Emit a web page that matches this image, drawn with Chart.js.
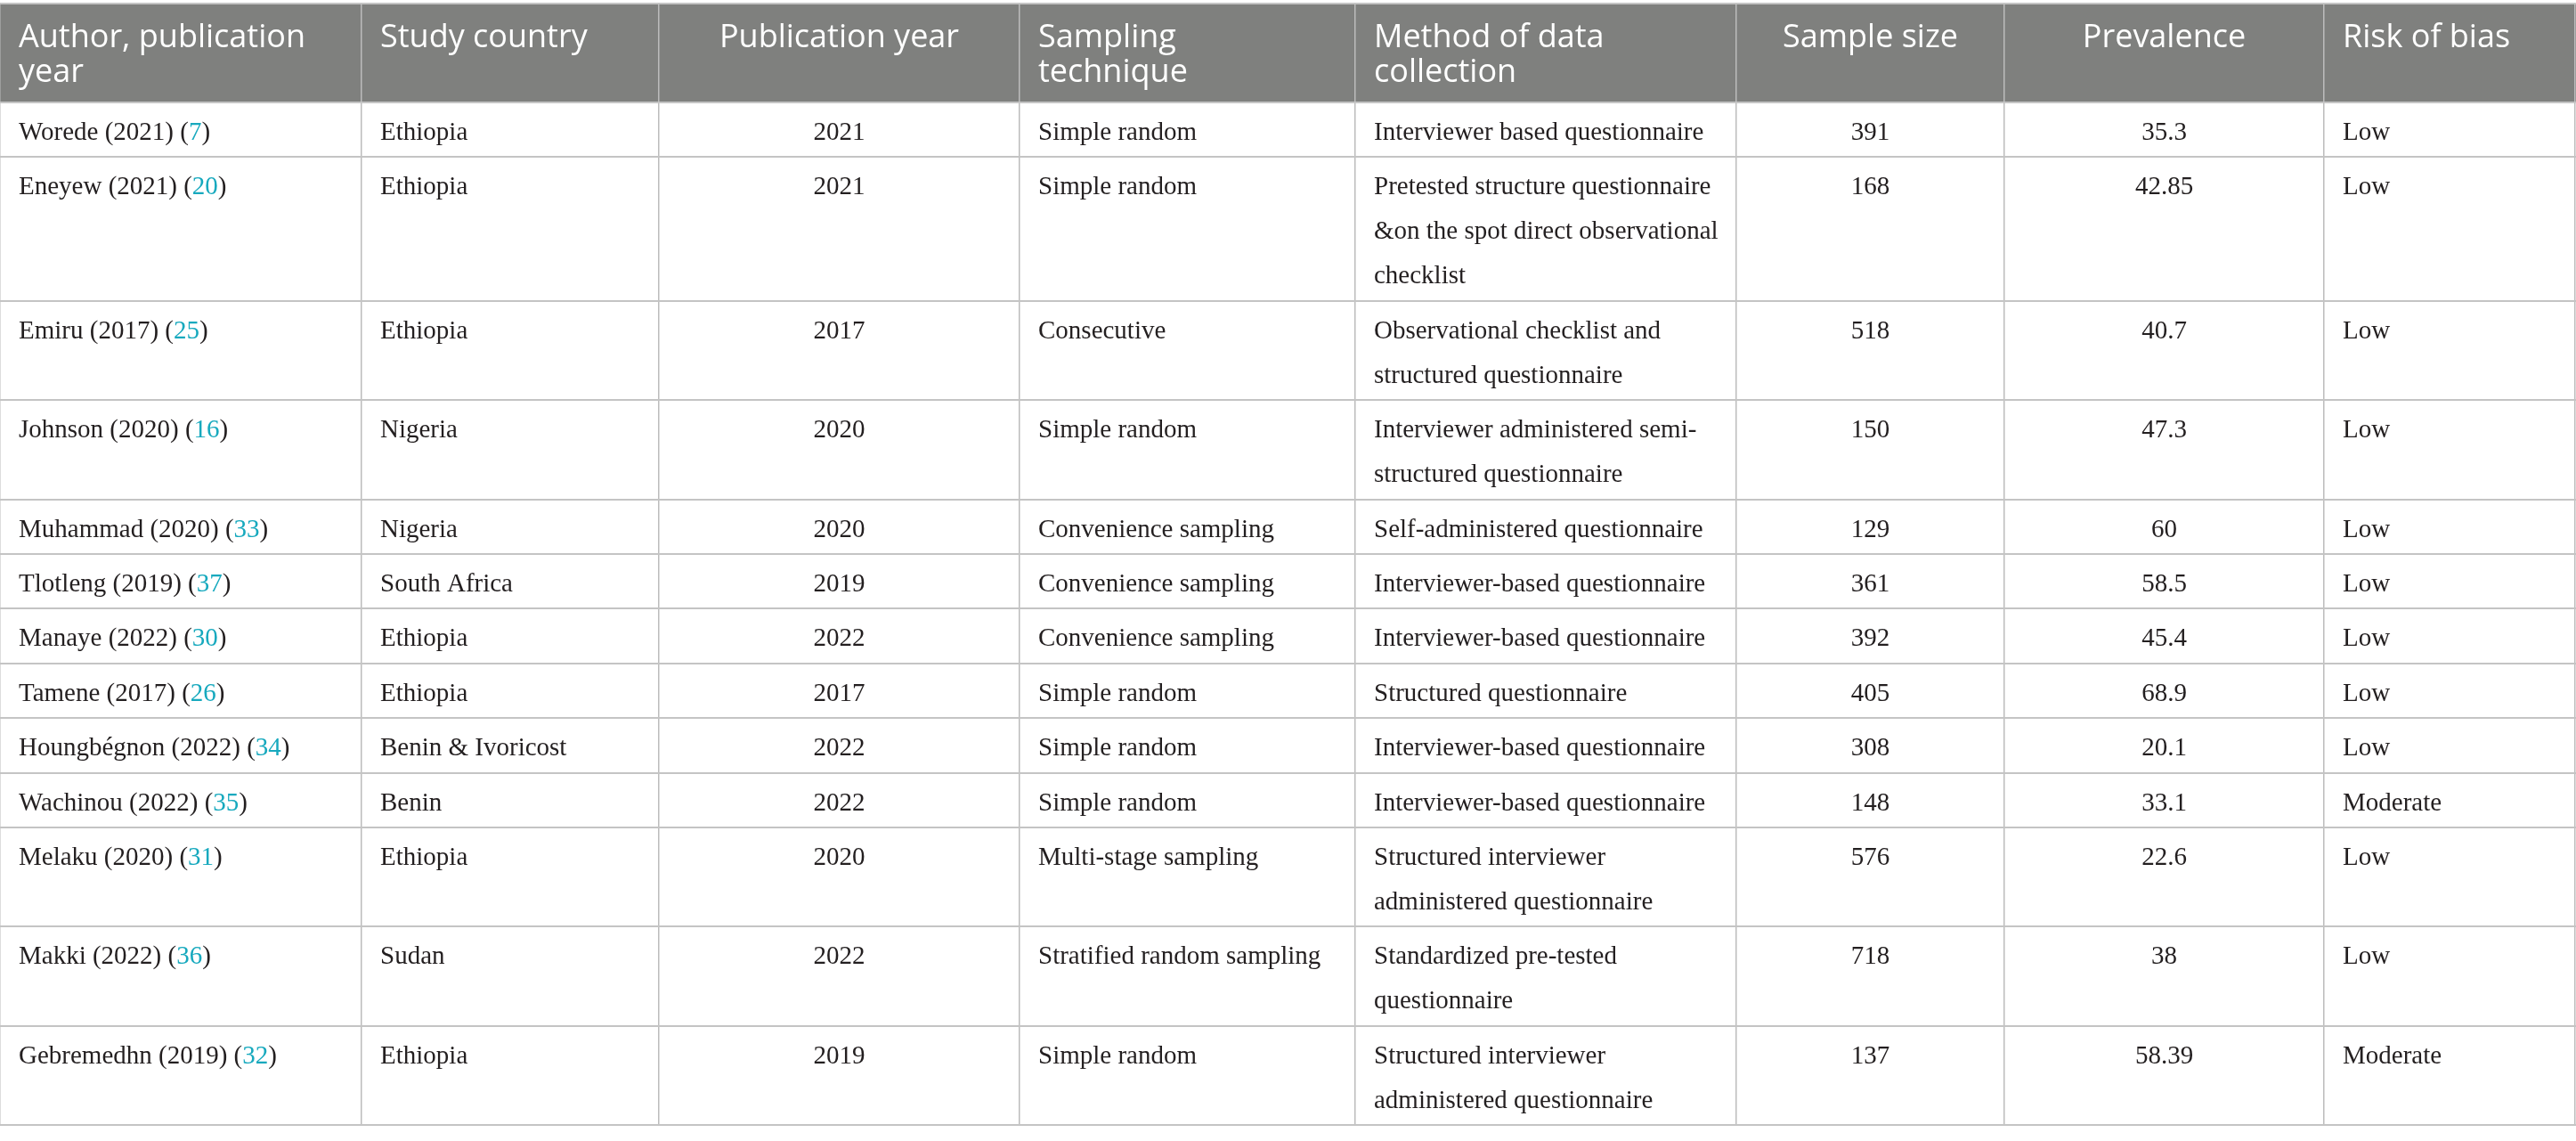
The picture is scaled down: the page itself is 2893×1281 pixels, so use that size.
<!DOCTYPE html>
<html>
<head>
<meta charset="utf-8">
<script src="https://cdn.jsdelivr.net/npm/chart.js@4.4.1/dist/chart.umd.min.js"></script>
<style>
  html, body { margin: 0; padding: 0; background: #fff; }
  #wrap { position: relative; width: 2893px; height: 1264px; }
</style>
</head>
<body>
<div id="wrap"><canvas id="studyTable"></canvas></div>
<script>
// table content
const headerLabels = [
    ['Author, publication', 'year'],
    ['Study country'],
    ['Publication year'],
    ['Sampling', 'technique'],
    ['Method of data', 'collection'],
    ['Sample size'],
    ['Prevalence'],
    ['Risk of bias']
];
const authors = ['Worede (2021)', 'Eneyew (2021)', 'Emiru (2017)', 'Johnson (2020)', 'Muhammad (2020)',
    'Tlotleng (2019)', 'Manaye (2022)', 'Tamene (2017)', 'Houngbégnon (2022)', 'Wachinou (2022)',
    'Melaku (2020)', 'Makki (2022)', 'Gebremedhn (2019)'];
const citations = [7, 20, 25, 16, 33, 37, 30, 26, 34, 35, 31, 36, 32];
const countries = ['Ethiopia', 'Ethiopia', 'Ethiopia', 'Nigeria', 'Nigeria', 'South Africa', 'Ethiopia',
    'Ethiopia', 'Benin & Ivoricost', 'Benin', 'Ethiopia', 'Sudan', 'Ethiopia'];
const pubYears = [2021, 2021, 2017, 2020, 2020, 2019, 2022, 2017, 2022, 2022, 2020, 2022, 2019];
const samplingTechniques = ['Simple random', 'Simple random', 'Consecutive', 'Simple random',
    'Convenience sampling', 'Convenience sampling', 'Convenience sampling', 'Simple random',
    'Simple random', 'Simple random', 'Multi-stage sampling', 'Stratified random sampling', 'Simple random'];
const methods = [
    ['Interviewer based questionnaire'],
    ['Pretested structure questionnaire', '&on the spot direct observational', 'checklist'],
    ['Observational checklist and', 'structured questionnaire'],
    ['Interviewer administered semi-', 'structured questionnaire'],
    ['Self-administered questionnaire'],
    ['Interviewer-based questionnaire'],
    ['Interviewer-based questionnaire'],
    ['Structured questionnaire'],
    ['Interviewer-based questionnaire'],
    ['Interviewer-based questionnaire'],
    ['Structured interviewer', 'administered questionnaire'],
    ['Standardized pre-tested', 'questionnaire'],
    ['Structured interviewer', 'administered questionnaire']
];
const sampleSizes = [391, 168, 518, 150, 129, 361, 392, 405, 308, 148, 576, 718, 137];
const prevalence = [35.3, 42.85, 40.7, 47.3, 60, 58.5, 45.4, 68.9, 20.1, 33.1, 22.6, 38, 58.39];
const riskOfBias = ['Low', 'Low', 'Low', 'Low', 'Low', 'Low', 'Low', 'Low', 'Low', 'Moderate', 'Low', 'Low', 'Moderate'];

// layout
const colEdges = [0, 406, 740, 1145, 1522, 1950, 2251, 2610, 2892];
const colAlign = ['left', 'left', 'center', 'left', 'left', 'center', 'center', 'left'];
const TABLE_TOP = 4;
const HEADER_BOTTOM = 115;
const ROW_BASE = 61.4;
const LINE_STEP = 50;
const CELL_PAD = 21;
const HEADER_FONT = '36px "Open Sans"';
const BODY_FONT = '29px "Liberation Serif"';
const TEXT_COLOR = '#231f20';
const CITE_COLOR = '#17a9be';
const HEADER_FILL = '#7f807e';

// row edges, from the number of lines in each row
const rowEdges = [TABLE_TOP, HEADER_BOTTOM];
methods.forEach(lines => {
    const prev = rowEdges[rowEdges.length - 1];
    rowEdges.push(prev + ROW_BASE + LINE_STEP * (lines.length - 1));
});

function cellLines(row, col) {
    switch (col) {
        case 1: return [countries[row]];
        case 2: return [String(pubYears[row])];
        case 3: return [samplingTechniques[row]];
        case 4: return methods[row];
        case 5: return [String(sampleSizes[row])];
        case 6: return [String(prevalence[row])];
        case 7: return [riskOfBias[row]];
    }
    return [];
}

function textX(ctx, xs, col, text) {
    const left = xs.getPixelForValue(colEdges[col]);
    const right = xs.getPixelForValue(colEdges[col + 1]);
    if (colAlign[col] === 'center') return (left + right) / 2 - ctx.measureText(text).width / 2;
    return left + CELL_PAD;
}

const tablePlugin = {
    id: 'tablePlugin',
    beforeDraw(chart) {
        const { ctx, scales: { x, y } } = chart;
        ctx.save();
        ctx.fillStyle = HEADER_FILL;
        const top = y.getPixelForValue(TABLE_TOP);
        const bottom = y.getPixelForValue(HEADER_BOTTOM);
        ctx.fillRect(x.getPixelForValue(0), top, x.getPixelForValue(colEdges[8] + 1), bottom - top);
        ctx.restore();
    },
    afterDraw(chart) {
        const { ctx, scales: { x, y } } = chart;
        ctx.save();
        ctx.textBaseline = 'alphabetic';

        // header
        ctx.font = HEADER_FONT;
        ctx.fillStyle = '#ffffff';
        headerLabels.forEach((lines, col) => {
            lines.forEach((line, k) => {
                ctx.fillText(line, textX(ctx, x, col, line), y.getPixelForValue(TABLE_TOP + 49 + 39 * k));
            });
        });

        // body
        ctx.font = BODY_FONT;
        for (let r = 0; r < authors.length; r++) {
            const top = rowEdges[r + 1];
            const base = y.getPixelForValue(top + 42);

            // author with coloured reference number
            let px = x.getPixelForValue(colEdges[0]) + CELL_PAD;
            const parts = [[authors[r] + ' (', TEXT_COLOR], [String(citations[r]), CITE_COLOR], [')', TEXT_COLOR]];
            parts.forEach(([txt, color]) => {
                ctx.fillStyle = color;
                ctx.fillText(txt, px, base);
                px += ctx.measureText(txt).width;
            });

            ctx.fillStyle = TEXT_COLOR;
            for (let col = 1; col < 8; col++) {
                cellLines(r, col).forEach((line, k) => {
                    ctx.fillText(line, textX(ctx, x, col, line), y.getPixelForValue(top + 42 + LINE_STEP * k));
                });
            }
        }
        ctx.restore();
    }
};

new Chart(document.getElementById('studyTable'), {
    type: 'scatter',
    data: { datasets: [{ data: [] }] },
    options: {
        responsive: true,
        maintainAspectRatio: false,
        animation: false,
        layout: { padding: { top: TABLE_TOP, left: 0, right: 0, bottom: 0 } },
        plugins: { legend: { display: false }, tooltip: { enabled: false } },
        scales: {
            x: {
                type: 'linear',
                min: 0,
                max: 2893,
                ticks: { display: false },
                border: { display: false },
                grid: { drawTicks: false, color: '#bcbcbc', lineWidth: 1.5 },
                afterBuildTicks: s => { s.ticks = colEdges.map(v => ({ value: v })); },
                afterFit: s => { s.height = 0; }
            },
            y: {
                type: 'linear',
                reverse: true,
                min: TABLE_TOP,
                max: 1264,
                ticks: { display: false },
                border: { display: false },
                grid: { drawTicks: false, color: '#c4c4c4', lineWidth: 2 },
                afterBuildTicks: s => { s.ticks = rowEdges.map(v => ({ value: v })); },
                afterFit: s => { s.width = 0; }
            }
        }
    },
    plugins: [tablePlugin]
});
</script>
</body>
</html>
